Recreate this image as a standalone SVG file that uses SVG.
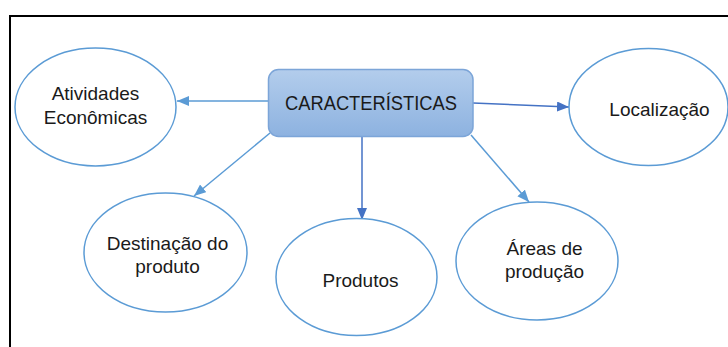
<svg xmlns="http://www.w3.org/2000/svg" width="728" height="347" viewBox="0 0 728 347">
<defs>
<linearGradient id="boxGrad" x1="0" y1="0" x2="0" y2="1">
<stop offset="0" stop-color="#b3cdec"/>
<stop offset="1" stop-color="#8db2e0"/>
</linearGradient>
<marker id="ah" markerUnits="userSpaceOnUse" markerWidth="14" markerHeight="12" refX="12" refY="5" orient="auto">
<path d="M0,0 L12,5 L0,10 Z" fill="#5b9bd5"/>
</marker>
<marker id="ahd" markerUnits="userSpaceOnUse" markerWidth="14" markerHeight="12" refX="12" refY="5" orient="auto">
<path d="M0,0 L12,5 L0,10 Z" fill="#4472c4"/>
</marker>
</defs>
<style>
.ell{fill:#ffffff;stroke:#5b9bd5;stroke-width:1.5}
.lbl{font-family:"Liberation Sans",Arial,sans-serif;font-size:19px;fill:#1a1a1a;text-anchor:middle}
.con{stroke:#5b9bd5;stroke-width:1.5;fill:none;marker-end:url(#ah)}
.cond{stroke:#4472c4;stroke-width:1.5;fill:none;marker-end:url(#ahd)}
</style>
<rect width="728" height="347" fill="#ffffff"/>
<path d="M10,347 L10,16 L728,16" fill="none" stroke="#000000" stroke-width="2"/>
<g id="connectors">
<line class="con" x1="268" y1="101" x2="177" y2="101"/>
<line class="cond" x1="473" y1="103" x2="569" y2="107"/>
<line class="con" x1="270" y1="133" x2="194" y2="196"/>
<line class="cond" x1="362" y1="137" x2="362" y2="220"/>
<line class="con" x1="471" y1="135" x2="529" y2="202"/>
</g>
<g id="caracteristicas">
<rect x="268.5" y="69.5" width="204.5" height="67" rx="10" ry="10" fill="url(#boxGrad)" stroke="#7ca5d8" stroke-width="1.5"/>
<text x="371" y="110" font-family="'Liberation Sans Narrow','Liberation Sans',Arial,sans-serif" font-size="20" fill="#1a1a1a" text-anchor="middle" textLength="172" lengthAdjust="spacingAndGlyphs">CARACTERÍSTICAS</text>
</g>
<g id="atividades">
<ellipse class="ell" cx="95.5" cy="107" rx="80.5" ry="59"/>
<text class="lbl" x="95.5" y="100">Atividades</text>
<text class="lbl" x="95.5" y="124">Econômicas</text>
</g>
<g id="localizacao">
<ellipse class="ell" cx="648.5" cy="107" rx="79.5" ry="58.5"/>
<text class="lbl" x="659.5" y="116">Localização</text>
</g>
<g id="destinacao">
<ellipse class="ell" cx="165.5" cy="252.5" rx="81.5" ry="59.5"/>
<text class="lbl" x="167.5" y="250">Destinação do</text>
<text class="lbl" x="167.5" y="273">produto</text>
</g>
<g id="produtos">
<ellipse class="ell" cx="356.5" cy="277" rx="80.5" ry="58.5"/>
<text class="lbl" x="360.5" y="287">Produtos</text>
</g>
<g id="areas">
<ellipse class="ell" cx="537" cy="261" rx="81" ry="59"/>
<text class="lbl" x="544.5" y="255">Áreas de</text>
<text class="lbl" x="544.5" y="278">produção</text>
</g>
</svg>
